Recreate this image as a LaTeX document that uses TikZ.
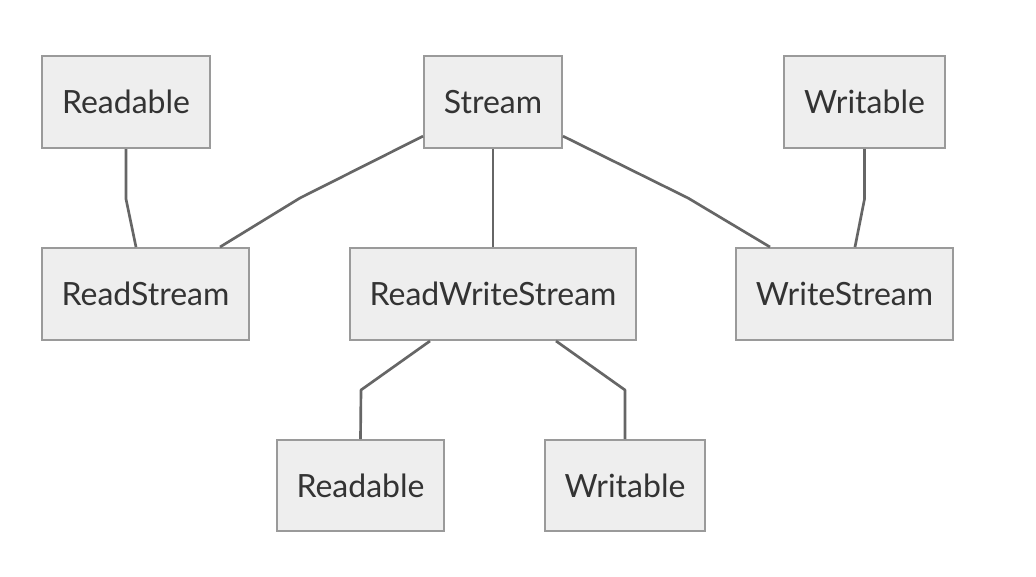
\documentclass[tikz,border=0pt]{standalone}
\usepackage{fontspec}
\setmainfont{Lato}
\usetikzlibrary{calc}
\definecolor{boxfill}{HTML}{EEEEEE}
\definecolor{boxline}{HTML}{9A9A9A}
\definecolor{wirecol}{HTML}{666666}
\definecolor{txt}{HTML}{333333}
\begin{document}
\begin{tikzpicture}[x=0.75pt,y=-0.75pt,
  box/.style={draw=boxline, fill=boxfill, line width=1.5pt, inner sep=0pt,
    text=txt, font=\fontsize{24}{28}\selectfont},
  wire/.style={draw=wirecol, line width=2pt, line join=round}]
\useasboundingbox[fill=white] (0,0) rectangle (1036,576);
\node[box, minimum width=126pt, minimum height=69pt] (r1) at (126,102) {Readable};
\node[box, minimum width=103.5pt, minimum height=69pt] (st) at (493,102) {Stream};
\node[box, minimum width=120.75pt, minimum height=69pt] (w1) at (864.5,102) {Writable};
\node[box, minimum width=155.25pt, minimum height=69pt] (rs) at (145.5,294) {ReadStream};
\node[box, minimum width=214.5pt, minimum height=69pt] (rws) at (493,294) {ReadWriteStream};
\node[box, minimum width=162.75pt, minimum height=69pt] (ws) at (844.5,294) {WriteStream};
\node[box, minimum width=125.25pt, minimum height=68.25pt] (r2) at (360.5,485.5) {Readable};
\node[box, minimum width=120pt, minimum height=68.25pt] (w2) at (625,485.5) {Writable};

\draw[wire] (r1.south) -- ++(0,50) -- ($(rs.north)+(-9.5,0)$);
\draw[wire] (st.206) -- (300,198) -- ($(rs.north)+(74.5,0)$);
\draw[wire] (st.south) -- (rws.north);
\draw[wire] (st.334) -- (688,198) -- ($(ws.north)+(-74.5,0)$);
\draw[wire] (w1.south) -- ++(0,50) -- ($(ws.north)+(10.5,0)$);
\draw[wire] ($(rws.south)+(-63,0)$) -- (361,390) -- (r2.north);
\draw[wire] ($(rws.south)+(63,0)$) -- (625,390) -- (w2.north);
\end{tikzpicture}
\end{document}
